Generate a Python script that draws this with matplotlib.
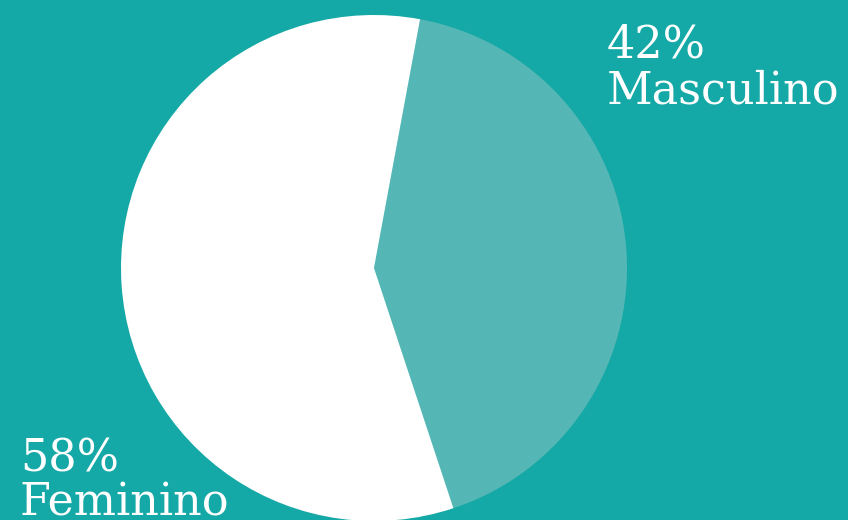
import matplotlib.pyplot as plt

labels = ["Masculino", "Feminino"]
shares = [42, 58]
colors = ["#55b7b5", "#ffffff"]
bg = "#14a8a6"

fig = plt.figure(figsize=(8.48, 5.2), dpi=100, facecolor=bg)
ax = fig.add_axes([0, 0, 1, 1])
ax.set_facecolor(bg)

ax.pie(shares, colors=colors, startangle=79.5, counterclock=False,
       center=(374, 252), radius=253, frame=True,
       wedgeprops=dict(linewidth=0))
ax.set_xlim(0, 848)
ax.set_ylim(0, 520)
ax.set_aspect("equal")
ax.axis("off")

font = dict(family="DejaVu Serif", color="white", size=32, va="baseline")
# label positions in pixels from the top-left corner
ax.text(607, 520 - 58, f"{shares[0]}%", **font)
ax.text(607, 520 - 104, labels[0], **font)
ax.text(20, 520 - 472, f"{shares[1]}%", **font)
ax.text(20, 520 - 516, labels[1], **font)

fig.savefig("out.png", dpi=100, facecolor=bg)
